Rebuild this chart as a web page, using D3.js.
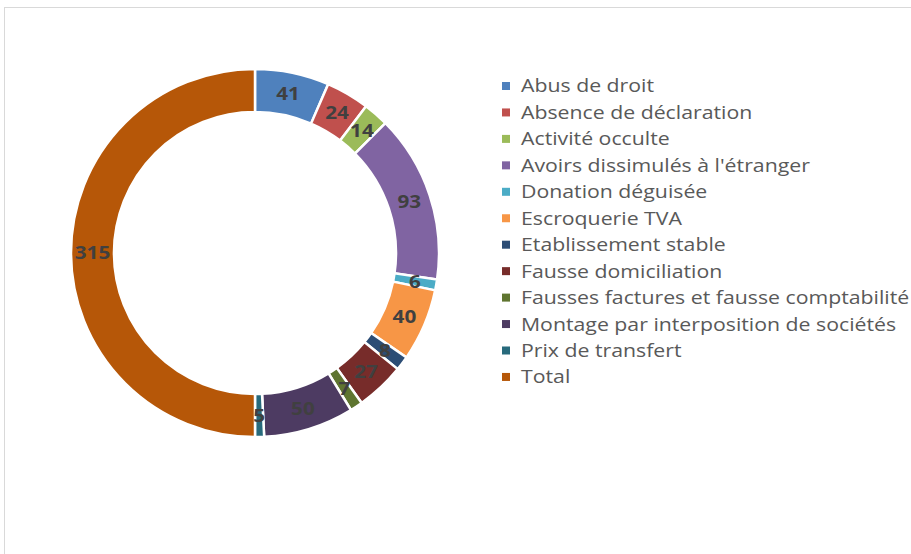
<!DOCTYPE html>
<html>
<head>
<meta charset="utf-8">
<script src="https://cdn.jsdelivr.net/npm/d3@7"></script>
<style>
  body { margin: 0; background: #fff; }
  svg { display: block; }
</style>
</head>
<body>
<div id="chart"></div>
<script>
const categories = [
  "Abus de droit",
  "Absence de déclaration",
  "Activité occulte",
  "Avoirs dissimulés à l'étranger",
  "Donation déguisée",
  "Escroquerie TVA",
  "Etablissement stable",
  "Fausse domiciliation",
  "Fausses factures et fausse comptabilité",
  "Montage par interposition de sociétés",
  "Prix de transfert",
  "Total"
];
const values = [41, 24, 14, 93, 6, 40, 8, 27, 7, 50, 5, 315];
const colors = [
  "#4F81BD", "#C0504D", "#9BBB59", "#8064A2", "#4BACC6", "#F79646",
  "#2C4D75", "#772C2A", "#5F7530", "#4D3B62", "#276A7C", "#B65708"
];

const width = 911, height = 554;
const svg = d3.select("#chart").append("svg")
  .attr("width", width)
  .attr("height", height);

// chart frame
svg.append("rect")
  .attr("x", 4.5).attr("y", 7.5)
  .attr("width", 920).attr("height", 560)
  .attr("fill", "#fff")
  .attr("stroke", "#d9d9d9")
  .attr("stroke-width", 1);

const data = categories.map((c, i) => ({ name: c, value: values[i], color: colors[i] }));

const cx = 255, cy = 253, outerR = 184, innerR = 141;

const pie = d3.pie().sort(null).value(d => d.value);
const arc = d3.arc().innerRadius(innerR).outerRadius(outerR);
const labelArc = d3.arc().innerRadius((innerR + outerR) / 2).outerRadius((innerR + outerR) / 2);

const g = svg.append("g").attr("transform", `translate(${cx},${cy})`);
const arcs = pie(data);

g.selectAll("path")
  .data(arcs)
  .enter()
  .append("path")
  .attr("d", arc)
  .attr("fill", d => d.data.color)
  .attr("stroke", "#fff")
  .attr("stroke-width", 2.5);

// text in the reference is a bit wide, so stretch it horizontally
g.selectAll("text")
  .data(arcs)
  .enter()
  .append("text")
  .attr("transform", d => `translate(${labelArc.centroid(d)}) scale(1.15,1)`)
  .attr("text-anchor", "middle")
  .attr("dy", "0.36em")
  .attr("font-family", "'Open Sans', sans-serif")
  .attr("font-weight", "bold")
  .attr("font-size", 18)
  .attr("fill", "#404040")
  .text(d => d.data.value);

// legend
const legend = svg.append("g").attr("transform", "translate(502,86)");
const rowH = 26.45;
const items = legend.selectAll("g")
  .data(data)
  .enter()
  .append("g")
  .attr("transform", (d, i) => `translate(0,${i * rowH})`);

items.append("rect")
  .attr("x", 0).attr("y", -4)
  .attr("width", 8).attr("height", 8)
  .attr("fill", d => d.color);

items.append("text")
  .attr("transform", "translate(19,0) scale(1.15,1)")
  .attr("dy", "0.35em")
  .attr("font-family", "'Open Sans', sans-serif")
  .attr("font-size", 18.5)
  .attr("fill", "#595959")
  .text(d => d.name);
</script>
</body>
</html>
